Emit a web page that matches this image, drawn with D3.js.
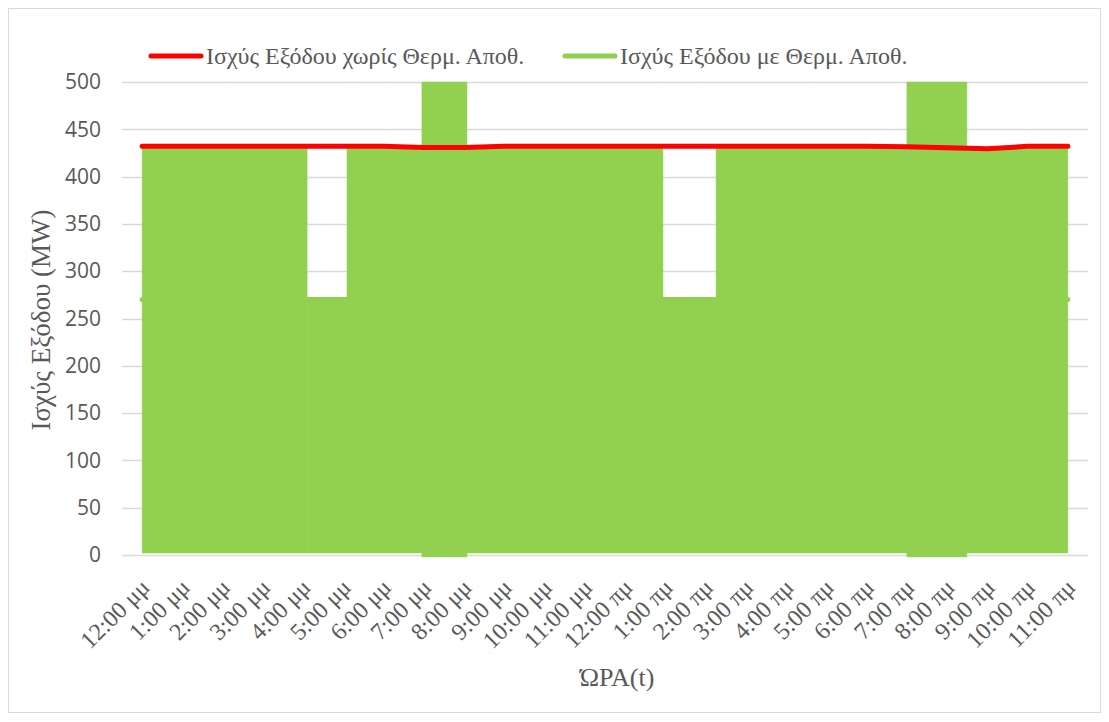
<!DOCTYPE html>
<html>
<head>
<meta charset="utf-8">
<script src="https://cdn.jsdelivr.net/npm/d3@7/dist/d3.min.js"></script>
<style>
  html, body { margin: 0; padding: 0; background: #ffffff; }
  svg { display: block; }
</style>
</head>
<body>
<svg id="chart" width="1109" height="722"></svg>
<script>
// Hourly categories shown on the x axis
const hours = [
  "12:00 μμ", "1:00 μμ", "2:00 μμ", "3:00 μμ", "4:00 μμ", "5:00 μμ",
  "6:00 μμ", "7:00 μμ", "8:00 μμ", "9:00 μμ", "10:00 μμ", "11:00 μμ",
  "12:00 πμ", "1:00 πμ", "2:00 πμ", "3:00 πμ", "4:00 πμ", "5:00 πμ",
  "6:00 πμ", "7:00 πμ", "8:00 πμ", "9:00 πμ", "10:00 πμ", "11:00 πμ"
];

// Output power without thermal storage (MW), one value per hour
const powerNoStorage = [
  432, 432, 432, 432, 432, 432, 432, 430.8, 430.8, 432, 432, 432,
  432, 432, 432, 432, 432, 432, 432, 431.5, 430.5, 429.5, 432, 432
];

// Output power with thermal storage (MW): the series swings rapidly inside
// each time window, so it is kept as the band it sweeps per window
// (window start in hours from the first category, upper and lower level).
const storageStart = [0, 4.10, 5.09, 6.95, 8.07, 12.94, 14.26, 19.0, 20.49];
const storageEnd   = [4.10, 5.09, 6.95, 8.07, 12.94, 14.26, 19.0, 20.49, 23];
const storageHigh  = [430, 272, 430, 500, 430, 272, 430, 500, 430];
const storageLow   = [2, 2, 2, -2, 2, 2, 2, -2, 2];
// first and last readings of the same series
const storageEndsHour  = [0, 23];
const storageEndsValue = [270, 270];

const yTicks = [0, 50, 100, 150, 200, 250, 300, 350, 400, 450, 500];

const seriesNames = ["Ισχύς Εξόδου χωρίς Θερμ. Αποθ.", "Ισχύς Εξόδου με Θερμ. Αποθ."];
const colors = ["#ff0000", "#92d050"];

const serif = "'Liberation Serif', 'Times New Roman', serif";
const textColor = "#595959";

const svg = d3.select("#chart");
const W = 1109, H = 722;
const plot = { left: 122, right: 1088, top: 82, bottom: 555 };

// outer chart border
svg.append("rect")
  .attr("x", 8.5).attr("y", 8.5)
  .attr("width", W - 17).attr("height", H - 18)
  .attr("fill", "#fff").attr("stroke", "#d9d9d9").attr("stroke-width", 1);

const xBand = d3.scaleBand().domain(hours).range([plot.left, plot.right]).padding(0);
const bw = xBand.bandwidth();
const xHour = d3.scaleLinear().domain([0, hours.length - 1])
  .range([xBand(hours[0]) + bw / 2, xBand(hours[hours.length - 1]) + bw / 2]);
const y = d3.scaleLinear().domain([0, 500]).range([plot.bottom, plot.top]);

// horizontal gridlines
svg.append("g")
  .selectAll("line")
  .data(yTicks)
  .join("line")
  .attr("x1", plot.left).attr("x2", plot.right)
  .attr("y1", d => Math.round(y(d)) + 0.5).attr("y2", d => Math.round(y(d)) + 0.5)
  .attr("stroke", "#d9d9d9").attr("stroke-width", 1.5);

// y axis labels
const yAxis = d3.axisLeft(y).tickValues(yTicks).tickSize(0).tickPadding(0);
const gy = svg.append("g").attr("transform", `translate(${plot.left - 21},0)`).call(yAxis);
gy.select(".domain").remove();
gy.selectAll("text")
  .attr("font-family", "'Open Sans', sans-serif")
  .attr("font-size", 21)
  .attr("fill", textColor);

// x axis labels, rotated
const xAxis = d3.axisBottom(xBand).tickSize(0).tickPadding(0);
const gx = svg.append("g").attr("transform", `translate(0,${plot.bottom})`).call(xAxis);
gx.select(".domain").remove();
gx.selectAll(".tick text")
  .attr("font-family", serif)
  .attr("font-size", 24)
  .attr("fill", textColor)
  .attr("text-anchor", "end")
  .attr("dy", 0)
  .attr("y", 0)
  .attr("transform", "translate(9,34) rotate(-45)");

// green series: line between first and last readings (caps show at the ends)
const lineGen = d3.line().x(d => xHour(d[0])).y(d => y(d[1]));
svg.append("path")
  .datum(storageEndsHour.map((h, i) => [h, storageEndsValue[i]]))
  .attr("d", lineGen)
  .attr("fill", "none")
  .attr("stroke", colors[1])
  .attr("stroke-width", 5)
  .attr("stroke-linecap", "round");

// green series: swept band per window
const bands = storageStart.map((s, i) => ({ s, e: storageEnd[i], hi: storageHigh[i], lo: storageLow[i] }));
const areaGen = d3.area()
  .x(d => xHour(d[0]))
  .y0(d => y(d[2]))
  .y1(d => y(d[1]))
  .curve(d3.curveStepAfter);
svg.append("g")
  .selectAll("path")
  .data(bands)
  .join("path")
  .attr("d", d => areaGen([[d.s, d.hi, d.lo], [d.e, d.hi, d.lo]]))
  .attr("fill", colors[1])
  .attr("stroke", colors[1])
  .attr("stroke-width", 0.5);

// red series
svg.append("path")
  .datum(powerNoStorage.map((v, i) => [i, v]))
  .attr("d", lineGen)
  .attr("fill", "none")
  .attr("stroke", colors[0])
  .attr("stroke-width", 5)
  .attr("stroke-linejoin", "round")
  .attr("stroke-linecap", "round");

// legend
const legendItems = [
  { name: seriesNames[0], color: colors[0], x: 149 },
  { name: seriesNames[1], color: colors[1], x: 563 }
];
const lg = svg.append("g");
legendItems.forEach(it => {
  lg.append("line")
    .attr("x1", it.x + 2).attr("x2", it.x + 52)
    .attr("y1", 56).attr("y2", 56)
    .attr("stroke", it.color).attr("stroke-width", 5)
    .attr("stroke-linecap", "round");
  lg.append("text")
    .attr("x", it.x + 57).attr("y", 64)
    .attr("font-family", serif)
    .attr("font-size", 24)
    .attr("fill", textColor)
    .text(it.name);
});

// axis titles
svg.append("text")
  .attr("transform", `translate(50,320) rotate(-90)`)
  .attr("text-anchor", "middle")
  .attr("font-family", serif)
  .attr("font-size", 27)
  .attr("fill", textColor)
  .text("Ισχύς Εξόδου (MW)");

svg.append("text")
  .attr("x", 617)
  .attr("y", 686)
  .attr("text-anchor", "middle")
  .attr("font-family", serif)
  .attr("font-size", 26)
  .attr("fill", textColor)
  .text("ΏΡΑ(t)");
</script>
</body>
</html>
